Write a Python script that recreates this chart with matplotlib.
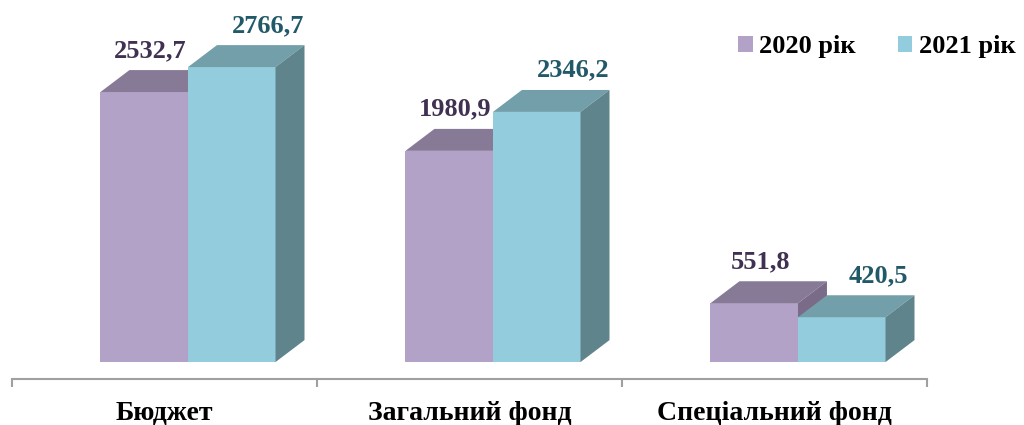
import matplotlib
matplotlib.use("Agg")
import matplotlib.pyplot as plt
from matplotlib.patches import Polygon, Patch

categories = ["Бюджет", "Загальний фонд", "Спеціальний фонд"]
series_names = ["2020 рік", "2021 рік"]
values_2020 = [2532.7, 1980.9, 551.8]
values_2021 = [2766.7, 2346.2, 420.5]
labels_2020 = ["2532,7", "1980,9", "551,8"]
labels_2021 = ["2766,7", "2346,2", "420,5"]

front_colors = ["#B3A2C7", "#93CDDD"]
top_colors = ["#877A96", "#729FAA"]
side_colors = ["#7A6C88", "#5F848C"]
label_colors = ["#403152", "#215968"]

plt.rcParams['font.family'] = ['Liberation Serif', 'DejaVu Serif']
plt.rcParams['font.weight'] = 'bold'

W, H = 1024, 425
fig = plt.figure(figsize=(W / 100, H / 100), dpi=100)
ax = fig.add_axes([12 / W, (H - 379) / H, (927 - 12) / W, 379 / H])
ax.set_xlim(-0.5, 2.5)
ax.set_ylim(-159, 3396)

bar_w = 0.287
start = -0.21
dx = 0.095
dy = 206

series = [values_2020, values_2021]
labels = [labels_2020, labels_2021]
label_dx = [0.02, 0.12]

for i in range(len(categories)):
    for s in range(2):
        h = series[s][i]
        x0 = i + start + s * bar_w
        x1 = x0 + bar_w
        ax.bar(x0, h, width=bar_w, align='edge', color=front_colors[s],
               edgecolor='none', zorder=2 + s * 3)
        top = Polygon([(x0, h), (x1, h), (x1 + dx, h + dy), (x0 + dx, h + dy)],
                      closed=True, facecolor=top_colors[s], edgecolor='none',
                      zorder=3 + s * 3)
        side = Polygon([(x1, 0), (x1 + dx, dy), (x1 + dx, h + dy), (x1, h)],
                       closed=True, facecolor=side_colors[s], edgecolor='none',
                       zorder=4 + s * 3)
        ax.add_patch(top)
        ax.add_patch(side)
        ax.annotate(labels[s][i], xy=(x0 + bar_w / 2 + label_dx[s], h + dy),
                    xytext=(0, 9.5), textcoords='offset points',
                    ha='center', va='baseline', fontsize=19, fontweight='bold',
                    color=label_colors[s], zorder=10)

for sp in ['top', 'right', 'left']:
    ax.spines[sp].set_visible(False)
ax.spines['bottom'].set_color('#A0A0A0')
ax.spines['bottom'].set_linewidth(1.5)
ax.set_yticks([])
ax.set_xticks([-0.5, 0.5, 1.5, 2.5])
ax.set_xticklabels([])
ax.tick_params(axis='x', which='major', length=6, width=1.5, color='#A0A0A0', direction='out')
ax.set_xticks(range(len(categories)), minor=True)
ax.set_xticklabels(categories, minor=True, fontsize=20, fontweight='bold')
ax.tick_params(axis='x', which='minor', length=0, pad=16)

handles = [Patch(facecolor=front_colors[k], edgecolor='none') for k in range(2)]
fig.legend(handles, series_names, loc='center left',
           bbox_to_anchor=(738 / W, (H - 47) / H), ncol=2, frameon=False,
           prop={'size': 19, 'weight': 'bold'}, handlelength=0.55, handleheight=0.55,
           handletextpad=0.25, columnspacing=1.6, borderpad=0, borderaxespad=0)

fig.savefig("out.png", dpi=100)
